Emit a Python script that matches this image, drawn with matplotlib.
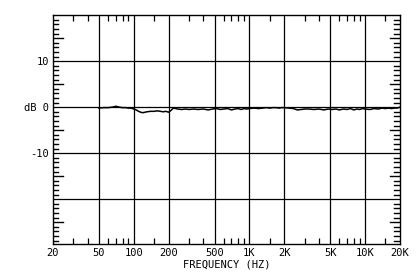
import matplotlib
matplotlib.use("Agg")
import matplotlib.pyplot as plt
from matplotlib.ticker import FixedLocator, NullFormatter

# response curve (Hz, dB)
freq = [50, 55, 60, 65, 70, 75, 80, 85, 90, 95, 100, 105, 110, 115, 120, 130,
        140, 150, 160, 170, 180, 190, 200, 210, 220, 240, 260, 280, 300, 330,
        360, 400, 440, 480, 520, 560, 600, 650, 700, 750, 800, 850, 900, 950,
        1000, 1100, 1200, 1300, 1400, 1500, 1600, 1700, 1800, 1900, 2000, 2200,
        2400, 2600, 2800, 3000, 3300, 3600, 4000, 4400, 4800, 5200, 5600, 6000,
        6500, 7000, 7500, 8000, 8500, 9000, 9500, 10000, 11000, 12000, 13000,
        14000, 15000, 16000, 17000, 18000, 19000, 20000]
db = [-0.2, -0.1, -0.1, 0.0, 0.2, 0.0, -0.1, -0.1, -0.2, -0.2, -0.4, -0.6,
      -0.9, -1.1, -1.2, -1.0, -0.9, -0.9, -0.8, -0.9, -1.0, -0.9, -1.1, -0.7,
      -0.2, -0.4, -0.5, -0.4, -0.5, -0.4, -0.5, -0.4, -0.6, -0.4, -0.3, -0.5,
      -0.4, -0.3, -0.6, -0.4, -0.3, -0.5, -0.3, -0.4, -0.3, -0.2, -0.3, -0.2,
      -0.1, -0.2, -0.1, -0.1, -0.2, -0.1, -0.1, -0.2, -0.3, -0.6, -0.5, -0.4,
      -0.4, -0.5, -0.4, -0.6, -0.4, -0.5, -0.4, -0.6, -0.4, -0.5, -0.3, -0.6,
      -0.4, -0.5, -0.3, -0.4, -0.5, -0.3, -0.4, -0.2, -0.3, -0.2, -0.3, -0.2,
      -0.2, 0.0]

x_ticks = [20, 50, 100, 200, 500, 1000, 2000, 5000, 10000, 20000]
x_labels = ["20", "50", "100", "200", "500", "1K", "2K", "5K", "10K", "20K"]
x_minor = [30, 40, 60, 70, 80, 90, 150, 300, 400, 600, 700, 800, 900, 1500,
           3000, 4000, 6000, 7000, 8000, 9000, 15000]
y_ticks = [10, 0, -10]
y_labels = ["10", "dB 0", "-10"]
y_grid = [10, 0, -10, -20]
y_minor = [v for v in range(-29, 20) if v % 5 != 0]
y_long = [15, 5, -5, -15, -25]

font = "DejaVu Sans Mono"

fig = plt.figure(figsize=(4.2, 2.8), dpi=100)
ax = fig.add_axes([0.126, 0.129, 0.826, 0.817])
ax.set_xscale("log")

for f in x_ticks[1:-1]:
    ax.axvline(f, color="black", lw=0.9)
for y in y_grid:
    ax.axhline(y, color="black", lw=0.9)

ax.plot(freq, db, color="black", lw=1.1)

# short ticks every dB, longer ones at the 5 dB marks (drawn in axes-x units)
trans = ax.get_yaxis_transform()
for y in y_minor:
    ax.plot([0, 0.016], [y, y], color="black", lw=1.0, transform=trans)
    ax.plot([0.984, 1], [y, y], color="black", lw=1.0, transform=trans)
for y in y_long:
    ax.plot([0, 0.028], [y, y], color="black", lw=1.0, transform=trans)
    ax.plot([0.972, 1], [y, y], color="black", lw=1.0, transform=trans)

ax.set_xlim(20, 20000)
ax.set_ylim(-29.7, 20)

ax.xaxis.set_major_locator(FixedLocator(x_ticks))
ax.xaxis.set_minor_locator(FixedLocator(x_minor))
ax.xaxis.set_minor_formatter(NullFormatter())
ax.set_xticklabels(x_labels, family=font, fontsize=7.5)
ax.set_xlabel("FREQUENCY (HZ)", family=font, fontsize=7.5, labelpad=1)

ax.set_yticks(y_ticks)
ax.set_yticklabels(y_labels, family=font, fontsize=7.5)

ax.tick_params(axis="x", which="major", length=0, pad=3)
ax.tick_params(axis="x", which="minor", direction="in", top=True, bottom=True,
               length=4, width=0.9)
ax.tick_params(axis="y", which="both", length=0, pad=3)

for s in ax.spines.values():
    s.set_linewidth(1.0)

fig.savefig("out.png", dpi=100, facecolor="white")
